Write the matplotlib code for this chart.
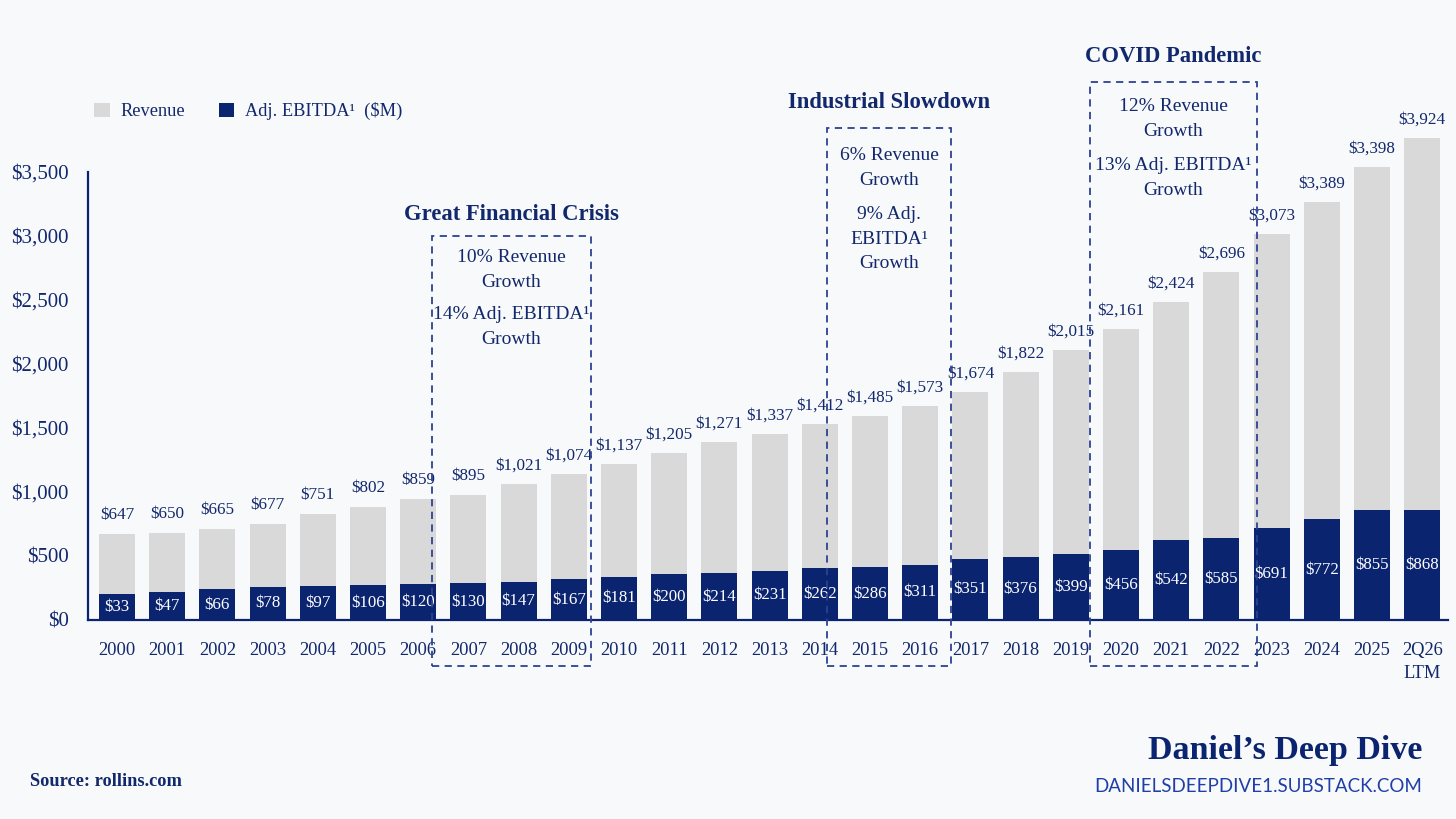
import matplotlib
matplotlib.use('Agg')
import matplotlib.pyplot as plt
from matplotlib.patches import Rectangle

# ---------------- data ----------------
years = ['2000', '2001', '2002', '2003', '2004', '2005', '2006', '2007', '2008',
         '2009', '2010', '2011', '2012', '2013', '2014', '2015', '2016', '2017',
         '2018', '2019', '2020', '2021', '2022', '2023', '2024', '2025', '2Q26\nLTM']
# values printed on the chart ($M)
revenue_labels = [647, 650, 665, 677, 751, 802, 859, 895, 1021, 1074, 1137, 1205,
                  1271, 1337, 1412, 1485, 1573, 1674, 1822, 2015, 2161, 2424, 2696,
                  3073, 3389, 3398, 3924]
ebitda_labels = [33, 47, 66, 78, 97, 106, 120, 130, 147, 167, 181, 200, 214, 231,
                 262, 286, 311, 351, 376, 399, 456, 542, 585, 691, 772, 855, 868]
# bar heights as drawn in the picture (read against the y axis)
revenue_drawn = [672, 680, 711, 750, 828, 883, 945, 977, 1063, 1141, 1219, 1305,
                 1391, 1453, 1531, 1594, 1672, 1781, 1938, 2109, 2273, 2484, 2719,
                 3016, 3266, 3539, 3766]
ebitda_drawn = [203, 219, 242, 258, 266, 273, 281, 289, 297, 320, 336, 359, 367,
                383, 406, 414, 430, 477, 492, 516, 547, 625, 641, 719, 789, 859, 859]
y_ticks = [0, 500, 1000, 1500, 2000, 2500, 3000, 3500]

# ---------------- style ----------------
BG = '#F8F9FB'
NAVY = '#0B2470'
TEXT = '#12286C'
GRAY = '#D9D9D9'
BOX = '#2D4392'
SERIF = ['Liberation Serif', 'DejaVu Serif']
plt.rcParams['font.family'] = SERIF

W, H = 1456, 819
fig = plt.figure(figsize=(W / 100, H / 100), dpi=100, facecolor=BG)

def fx(px):
    return px / W

def fy(py):
    return 1 - py / H

# axes: x from px 88 to 1448, y baseline at px 620, 3500 at px 172
ax_left, ax_right, ax_bottom, ax_top = 88, 1448, 620, 30
ax = fig.add_axes([fx(ax_left), fy(ax_bottom), (ax_right - ax_left) / W,
                   (ax_bottom - ax_top) / H])
ax.set_facecolor(BG)
px_per_unit = 448 / 3500
ax.set_ylim(0, (ax_bottom - ax_top) / px_per_unit)
spacing = 50.2
ax.set_xlim((ax_left - 117) / spacing, (ax_right - 117) / spacing)

x = list(range(len(years)))
bw = 0.72
rev_bars = ax.bar(x, revenue_drawn, width=bw, color=GRAY, label='Revenue', zorder=2)
ebit_bars = ax.bar(x, ebitda_drawn, width=bw, color=NAVY,
                   label='Adj. EBITDA\u00b9  ($M)', zorder=3)

for xi, h, lab in zip(x, revenue_drawn, revenue_labels):
    ax.annotate(f'${lab:,}', (xi, h), xytext=(0, 13.5), textcoords='offset points',
                ha='center', va='center', fontsize=12.3, color=TEXT, zorder=4)
for xi, h, lab in zip(x, ebitda_drawn, ebitda_labels):
    ax.text(xi, h / 2, f'${lab:,}', ha='center', va='center', fontsize=12.2,
            color='white', zorder=4)

for s in ['top', 'right']:
    ax.spines[s].set_visible(False)
ax.spines['left'].set_bounds(0, 3500)
ax.spines['left'].set_color(NAVY)
ax.spines['left'].set_linewidth(1.6)
ax.spines['bottom'].set_color(NAVY)
ax.spines['bottom'].set_linewidth(1.6)
ax.set_yticks(y_ticks)
ax.set_yticklabels([f'${v:,}' for v in y_ticks])
ax.set_xticks(x)
ax.set_xticklabels(years)
ax.tick_params(axis='y', length=0, pad=14, labelsize=15, labelcolor=TEXT)
ax.tick_params(axis='x', length=0, pad=15.5, labelsize=13.3, labelcolor=TEXT)
for t in ax.get_xticklabels():
    t.set_linespacing(1.5)

leg = ax.legend(handles=[rev_bars, ebit_bars], loc='upper left',
                bbox_to_anchor=(fx(87), fy(95)), bbox_transform=fig.transFigure,
                ncol=2, frameon=False, fontsize=13.2, handlelength=0.85,
                handleheight=0.85, handletextpad=0.6, columnspacing=1.8,
                borderaxespad=0)
for t in leg.get_texts():
    t.set_color(TEXT)

# ---------------- event boxes ----------------
boxes = [
    dict(x0=432, x1=591, y0=236, title='Great Financial Crisis', ty=214,
         lines=[('10% Revenue\nGrowth', 270), ('14% Adj. EBITDA\u00b9\nGrowth', 327)]),
    dict(x0=827, x1=951, y0=128, title='Industrial Slowdown', ty=102,
         lines=[('6% Revenue\nGrowth', 168), ('9% Adj.\nEBITDA\u00b9\nGrowth', 239)]),
    dict(x0=1090, x1=1257, y0=82, title='COVID Pandemic', ty=57,
         lines=[('12% Revenue\nGrowth', 119), ('13% Adj. EBITDA\u00b9\nGrowth', 178)]),
]
y_bottom = 666
for b in boxes:
    rect = Rectangle((fx(b['x0']), fy(y_bottom)), (b['x1'] - b['x0']) / W,
                     (y_bottom - b['y0']) / H, transform=fig.transFigure,
                     fill=False, edgecolor=BOX, linewidth=1.3,
                     linestyle=(0, (4, 3)), zorder=5)
    fig.add_artist(rect)
    cx = (b['x0'] + b['x1']) / 2
    fig.text(fx(cx), fy(b['ty']), b['title'], ha='center', va='center',
             fontsize=16.3, fontweight='bold', color=TEXT)
    for txt, yy in b['lines']:
        fig.text(fx(cx), fy(yy), txt, ha='center', va='center', fontsize=14,
                 color=TEXT, linespacing=1.58)

# ---------------- footer ----------------
fig.text(fx(30), fy(782), 'Source: rollins.com', ha='left', va='center',
         fontsize=13.2, fontweight='bold', color=TEXT)
fig.text(fx(1422), fy(750), 'Daniel\u2019s Deep Dive', ha='right', va='center',
         fontsize=24.5, fontweight='bold', color=NAVY)
fig.text(fx(1422), fy(787), 'DANIELSDEEPDIVE1.SUBSTACK.COM', ha='right',
         va='center', fontsize=13.5, color='#1F3FA8',
         family=['Lato', 'DejaVu Sans'])

fig.savefig('out.png', dpi=100, facecolor=BG)
